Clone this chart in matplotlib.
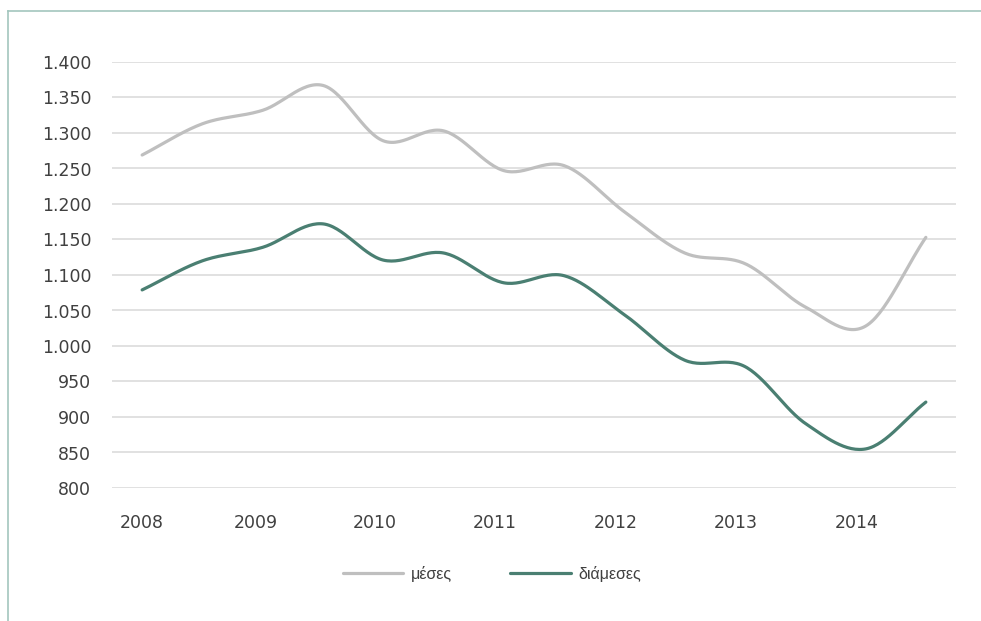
import numpy as np
import matplotlib
matplotlib.use('Agg')
import matplotlib.pyplot as plt
from matplotlib.lines import Line2D
from matplotlib.ticker import FuncFormatter

# semiannual observations, 2008 - 2014 (14 points)
mean_values = [1269, 1313, 1332, 1367, 1289, 1303, 1247, 1254, 1189, 1131, 1116, 1055, 1028, 1153]
median_values = [1079, 1120, 1139, 1172, 1121, 1131, 1089, 1099, 1044, 980, 971, 891, 855, 921]
series_names = ['μέσες', 'διάμεσες']
year_labels = ['2008', '2009', '2010', '2011', '2012', '2013', '2014']
year_tick_pos = [0.0, 1.88, 3.86, 5.85, 7.86, 9.85, 11.85]


def smooth(y, n=30):
    # Catmull-Rom curve through the points, like Excel's smoothed line
    y = np.asarray(y, dtype=float)
    x = np.arange(len(y), dtype=float)
    px = np.concatenate([[2 * x[0] - x[1]], x, [2 * x[-1] - x[-2]]])
    py = np.concatenate([[2 * y[0] - y[1]], y, [2 * y[-1] - y[-2]]])
    xs, ys = [], []
    for i in range(1, len(px) - 2):
        t = np.linspace(0, 1, n, endpoint=False)
        for arr, out in ((px, xs), (py, ys)):
            p0, p1, p2, p3 = arr[i - 1], arr[i], arr[i + 1], arr[i + 2]
            out.extend(0.5 * ((2 * p1) + (-p0 + p2) * t
                              + (2 * p0 - 5 * p1 + 4 * p2 - p3) * t ** 2
                              + (-p0 + 3 * p1 - 3 * p2 + p3) * t ** 3))
    xs.append(x[-1])
    ys.append(y[-1])
    return np.array(xs), np.array(ys)


fig = plt.figure(figsize=(9.81, 6.21), dpi=100)
ax = fig.add_axes([112 / 981, 1 - 488 / 621, (956 - 112) / 981, (488 - 62) / 621])

gray = '#bfbfbf'
green = '#4a7f72'
for vals, col, name in ((mean_values, gray, series_names[0]), (median_values, green, series_names[1])):
    sx, sy = smooth(vals)
    ax.plot(sx, sy, color=col, lw=2.3, solid_capstyle='round', label=name)

ax.set_xlim(-0.5, len(mean_values) - 0.5)
ax.set_ylim(800, 1400)
ax.set_yticks(np.arange(800, 1401, 50))
ax.yaxis.set_major_formatter(FuncFormatter(lambda v, p: f'{int(v):,}'.replace(',', '.')))
ax.set_xticks(year_tick_pos)
ax.set_xticklabels(year_labels)

ax.grid(axis='y', color='#d9d9d9', lw=1.1)
ax.set_axisbelow(True)
for s in ax.spines.values():
    s.set_visible(False)
ax.tick_params(axis='y', length=0, pad=15, labelsize=12.5, labelcolor='#404040')
ax.tick_params(axis='x', length=0, pad=19, labelsize=12.5, labelcolor='#404040')

leg = fig.legend(loc='center', bbox_to_anchor=(492 / 981, 1 - 574 / 621), ncol=2,
                 frameon=False, handlelength=3.8, handletextpad=0.5, columnspacing=3.6,
                 prop={'family': 'Liberation Sans', 'size': 11.5})
for t in leg.get_texts():
    t.set_color('#404040')

# partial outer frame (top and left edges)
border = '#a3c6be'
fig.add_artist(Line2D([8 / 981, 8 / 981], [0, 1 - 11 / 621], color=border, lw=1.2, transform=fig.transFigure))
fig.add_artist(Line2D([8 / 981, 1], [1 - 11 / 621, 1 - 11 / 621], color=border, lw=1.2, transform=fig.transFigure))

fig.savefig('out.png', dpi=100)
